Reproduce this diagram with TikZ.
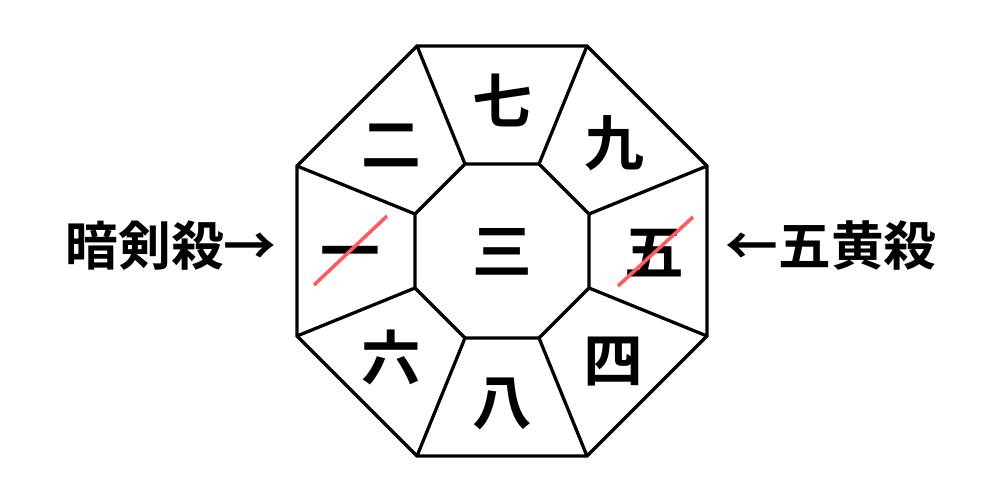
\documentclass[tikz,border=0pt]{standalone}
\usepackage{fontspec}
\usetikzlibrary{positioning}
\newfontfamily\jpfont{Noto Sans CJK JP}[BoldFont={Noto Sans CJK JP Bold}]
\definecolor{strikered}{HTML}{FF5A5F}

\begin{document}
\begin{tikzpicture}[x=0.02cm, y=-0.02cm,
	wall/.style={draw=black, line width=0.065cm},
	star/.style={font=\jpfont\bfseries\fontsize{34pt}{34pt}\selectfont, inner sep=0pt, text height=26pt, text depth=0pt},
	tag/.style={font=\jpfont\bfseries\fontsize{30pt}{30pt}\selectfont, inner sep=0pt, text height=23pt, text depth=0pt},
	strike/.style={draw=strikered, line width=0.07cm}]
			\useasboundingbox (0,0) rectangle (1000,500);
			% outer ring
			\coordinate (o1) at (417,46);
			\coordinate (o2) at (587,46);
			\coordinate (o3) at (707,166);
			\coordinate (o4) at (707,336);
			\coordinate (o5) at (587,456);
			\coordinate (o6) at (417,456);
			\coordinate (o7) at (297,336);
			\coordinate (o8) at (297,166);
			% inner ring
			\coordinate (i1) at (465,164);
			\coordinate (i2) at (539,164);
			\coordinate (i3) at (589,214);
			\coordinate (i4) at (589,288);
			\coordinate (i5) at (539,338);
			\coordinate (i6) at (465,338);
			\coordinate (i7) at (415,288);
			\coordinate (i8) at (415,214);
			
			\path[wall] (o1) -- (o2) -- (o3) -- (o4) -- (o5) -- (o6) -- (o7) -- (o8) -- cycle;
			\path[wall] (i1) -- (i2) -- (i3) -- (i4) -- (i5) -- (i6) -- (i7) -- (i8) -- cycle;
			\path[wall] (i1) edge (o1);
			\path[wall] (i2) edge (o2);
			\path[wall] (i3) edge (o3);
			\path[wall] (i4) edge (o4);
			\path[wall] (i5) edge (o5);
			\path[wall] (i6) edge (o6);
			\path[wall] (i7) edge (o7);
			\path[wall] (i8) edge (o8);
			
			\node[star] (san) at (502,251){三};
			\node[star] (nana) at (502,101){七};
			\node[star] (kyu) at (614,143){九};
			\node[star] (go) at (654,252){五};
			\node[star] (yon) at (613,360){四};
			\node[star] (hachi) at (502,402){八};
			\node[star] (roku) at (391,358){六};
			\node[star] (ichi) at (350,251){一};
			\node[star] (ni) at (391,144){二};
			
			\node[tag] (anken) at (171,245){暗剣殺→};
			\node[tag] (goou) at (831,245){←五黄殺};
			
			\coordinate (x1a) at (314,285);
			\coordinate (x1b) at (387,216);
			\coordinate (x2a) at (618,286);
			\coordinate (x2b) at (693,217);
			\path[strike] (x1a) edge (x1b);
			\path[strike] (x2a) edge (x2b);
			\end{tikzpicture}
\end{document}
